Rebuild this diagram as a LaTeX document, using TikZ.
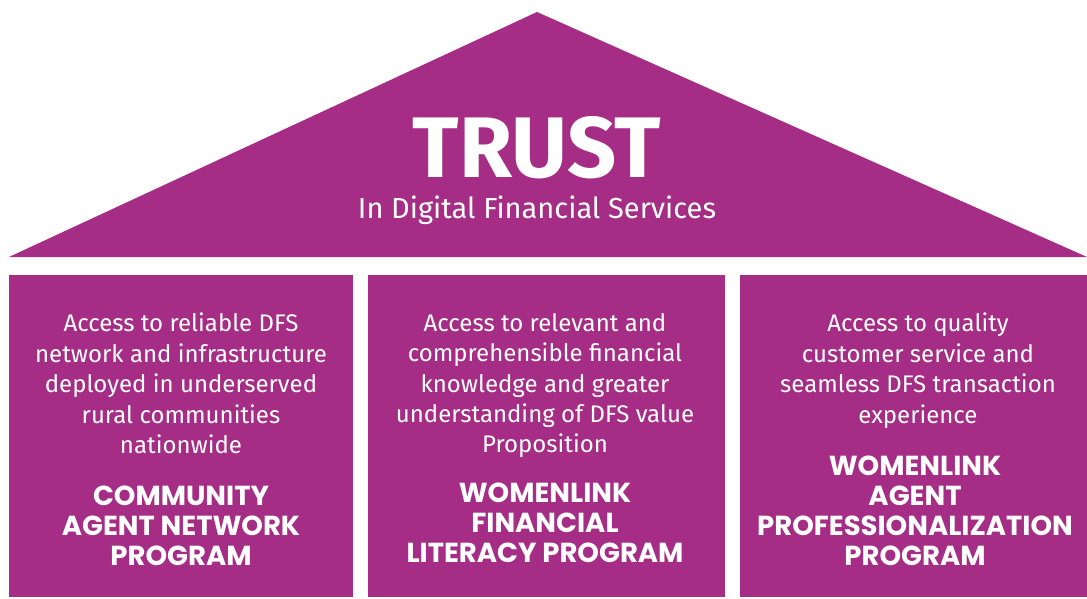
\documentclass[tikz,border=0pt]{standalone}
\usepackage{fontspec}
\setmainfont{Fira Sans}
\newfontfamily\progfont{Poppins}
\usetikzlibrary{positioning}
\definecolor{trustpurple}{RGB}{165,45,133}

\begin{document}
\begin{tikzpicture}[x=1pt,y=-1pt,
  pillar/.style={fill=trustpurple,anchor=north west,inner sep=0pt},
  desc/.style={text=white,align=center,anchor=north,inner sep=0pt,
    font=\fontsize{24}{30.4}\selectfont},
  prog/.style={text=white,align=center,anchor=north,inner sep=0pt,
    font=\progfont\bfseries\fontsize{27.5}{30}\selectfont}]
 \useasboundingbox (0,0) rectangle (1087,599);
 % roof
 \fill[trustpurple] (9,257)--(537,12)--(1087,257)--cycle;
 \node[text=white,anchor=base,inner sep=0pt,font=\bfseries\fontsize{86}{86}\selectfont] (trust) at (537,177) {TRUST};
 \node[text=white,anchor=base,inner sep=0pt,font=\fontsize{29}{29}\selectfont] (trustsub) at (537,218) {In Digital Financial Services};
 % the three pillars
 \node[pillar,minimum width=344pt,minimum height=322pt] (left) at (9,275) {};
 \node[pillar,minimum width=357pt,minimum height=322pt] (mid) at (368,275) {};
 \node[pillar,minimum width=347pt,minimum height=322pt] (right) at (740,275) {};
 \node[desc] (leftdesc) at (181,313) {Access to reliable DFS\\network and infrastructure\\deployed in underserved\\rural communities\\nationwide};
 \node[desc] (middesc) at (545,313) {Access to relevant and\\comprehensible financial\\knowledge and greater\\understanding of DFS value\\Proposition};
 \node[desc] (rightdesc) at (918,313) {Access to quality\\customer service and\\seamless DFS transaction\\experience};
 \node[prog] (leftprog) at (181,486) {COMMUNITY\\AGENT NETWORK\\PROGRAM};
 \node[prog] (midprog) at (545,483) {WOMENLINK\\FINANCIAL\\LITERACY PROGRAM};
 \node[prog] (rightprog) at (915,456) {WOMENLINK\\AGENT\\PROFESSIONALIZATION\\PROGRAM};
\end{tikzpicture}
\end{document}
